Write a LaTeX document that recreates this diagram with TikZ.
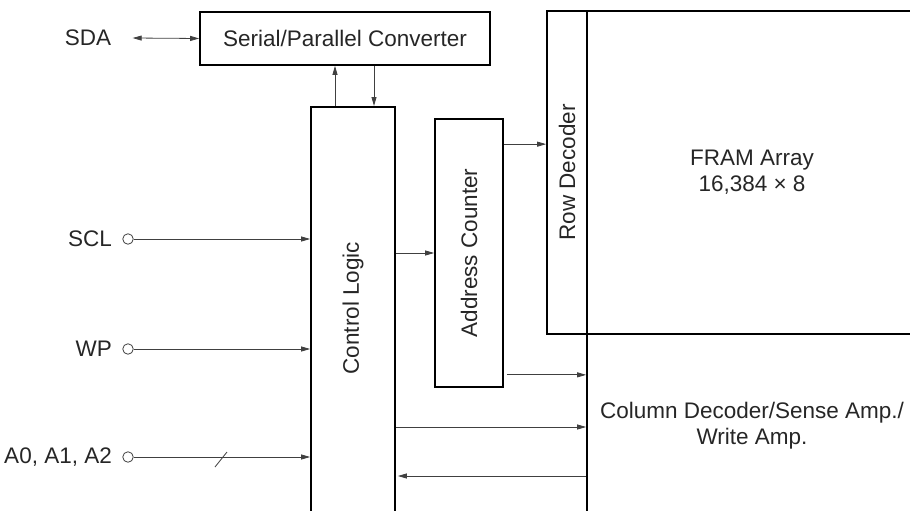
\documentclass[tikz,border=0pt]{standalone}
\usepackage{fontspec}
\setmainfont{Liberation Sans}
\usetikzlibrary{arrows.meta,positioning}

\begin{document}
\begin{tikzpicture}[x=1pt, y=-1pt,
  font=\fontsize{22.5}{26}\selectfont, text=black!85,
  box/.style={draw, line width=1.7pt, inner sep=0pt},
  sig/.style={-{Triangle[length=9pt,width=5pt]}, line width=0.8pt, black!75},
  pin/.style={circle, draw, line width=0.8pt, black!75, minimum size=10.5pt, inner sep=0pt}]

\useasboundingbox (0,0) rectangle (910,511);
\clip (0,0) rectangle (910,511);

% blocks
\node[box, minimum width=290, minimum height=53] (conv) at (345,38.5) {Serial/Parallel Converter};
\node[box, minimum width=84, minimum height=430, anchor=north] (ctrl) at (353,106) {};
\node[rotate=90] (ctrltxt) at (353,308) {Control Logic};
\node[box, minimum width=68, minimum height=268] (addr) at (469,253) {};
\node[rotate=90] (addrtxt) at (addr) {Address Counter};
\node[box, minimum width=40, minimum height=323] (rowdec) at (567,172.5) {};
\node[rotate=90] (rowtxt) at (rowdec) {Row Decoder};
\node[box, align=center, minimum width=330, minimum height=323] (fram) at (752,172.5) {FRAM Array\\16,384 × 8};
\node[box, align=center, minimum width=330, minimum height=183] (coldec) at (752,425.5) {Column Decoder/Sense Amp./\\Write Amp.};

% pins
\node (sda) at (88,38) {SDA};
\node[pin] (scl) at (128,239) {};
\node[left=7pt of scl] (scltxt) {SCL};
\node[pin] (wp) at (128,349) {};
\node[left=7pt of wp] (wptxt) {WP};
\node[pin] (apin) at (128,457) {};
\node[left=7pt of apin] (atxt) {A0, A1, A2};

% inputs
\draw[{Triangle[length=9pt,width=5pt]}-{Triangle[length=9pt,width=5pt]}, line width=0.8pt, black!75] ([xshift=18pt]sda.east) -- (conv.west);
\draw[sig] (scl) -- (scl -| ctrl.west);
\draw[sig] (wp) -- (wp -| ctrl.west);
\draw[sig] (apin) -- (apin -| ctrl.west);
\draw[line width=0.8pt, black!75] (215,467) -- (227,452);

% internal
\coordinate (up) at ([xshift=-18pt]ctrl.north);
\coordinate (dn) at ([xshift=21pt]ctrl.north);
\draw[sig] (up) -- (up |- conv.south);
\draw[sig] (dn |- conv.south) -- (dn);
\draw[sig] (ctrl.east |- addr.west) -- (addr.west);
\coordinate (ac1) at ([yshift=-26pt]addr.north east);
\draw[sig] (ac1) -- (ac1 -| rowdec.west);
\coordinate (ac2) at ([xshift=3pt,yshift=13pt]addr.south east);
\draw[sig] (ac2) -- (ac2 -| coldec.west);
\coordinate (cc1) at ([yshift=-1.5pt]coldec.west);
\draw[sig] (cc1 -| ctrl.east) -- (cc1);
\coordinate (cc2) at ([yshift=-50.5pt]coldec.west);
\draw[sig] (cc2) -- ([xshift=2pt]cc2 -| ctrl.east);

\end{tikzpicture}
\end{document}
